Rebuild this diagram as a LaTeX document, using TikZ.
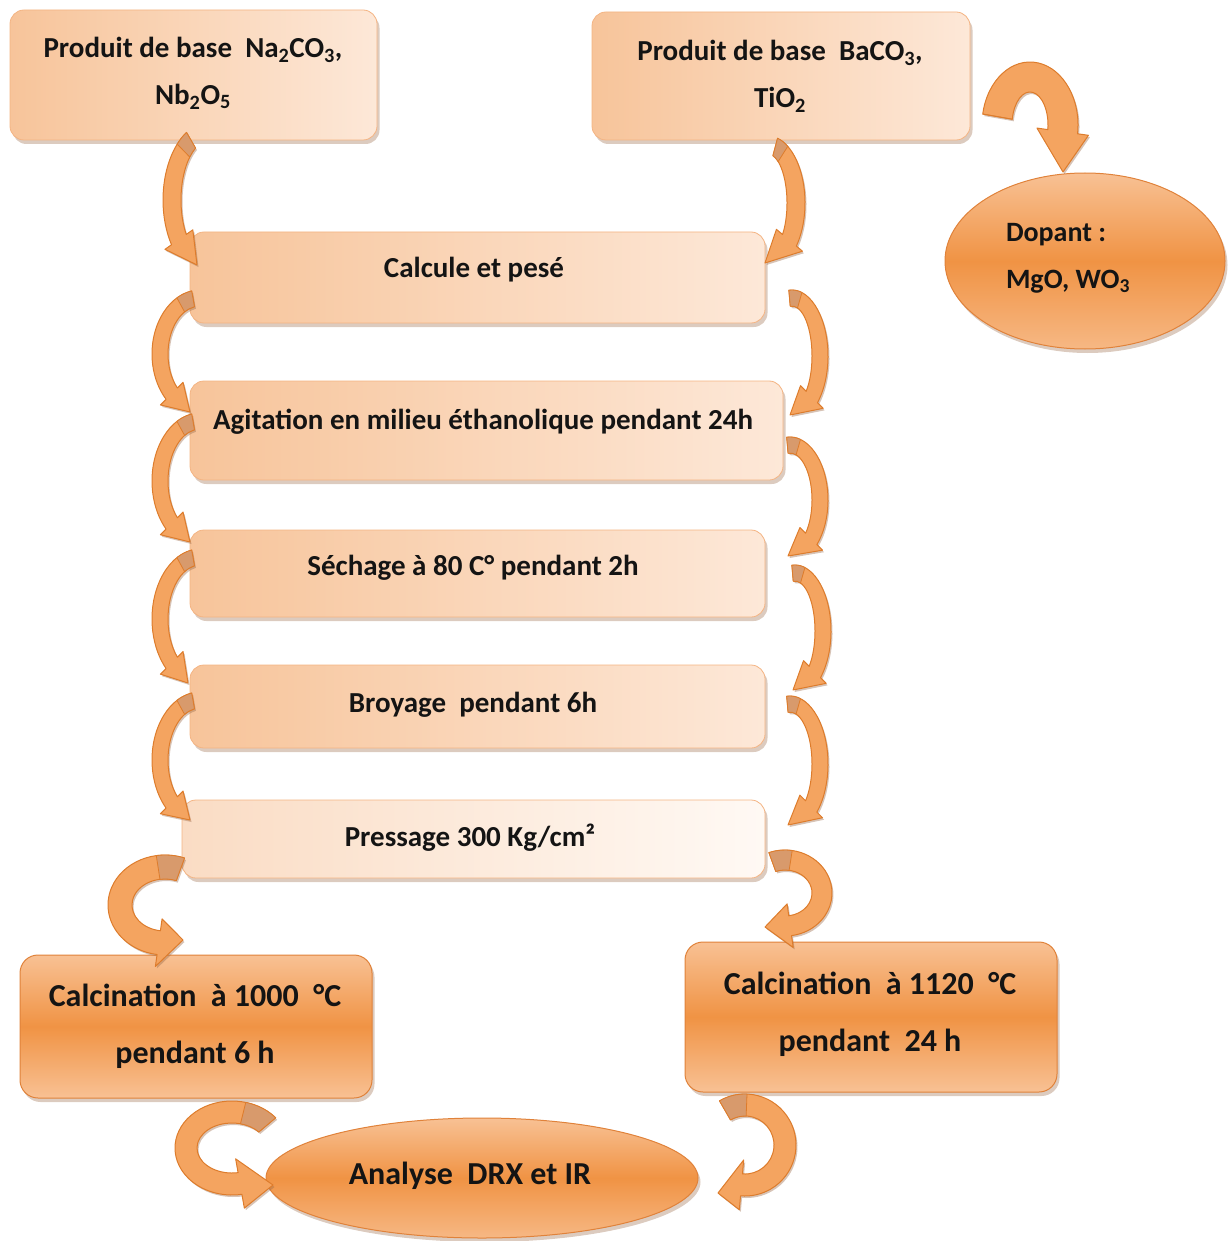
\documentclass[tikz,border=0pt]{standalone}
\usepackage{fontspec}
\setmainfont{Carlito}
\usetikzlibrary{shapes.geometric,shadows,calc}

\definecolor{peachA}{HTML}{F7C49A}
\definecolor{peachB}{HTML}{FDE8D8}
\definecolor{peachEdge}{HTML}{F4B483}
\definecolor{paleA}{HTML}{FADCC4}
\definecolor{paleB}{HTML}{FFF9F4}
\definecolor{orTop}{HTML}{F8C194}
\definecolor{orMid}{HTML}{F09344}
\definecolor{orEdge}{HTML}{E0823A}
\definecolor{arrFill}{HTML}{F4A460}
\definecolor{arrEdge}{HTML}{DD7C2C}
\definecolor{arrBack}{HTML}{D89A6C}
\definecolor{shadowc}{HTML}{9A6A48}

\newcommand\stepfont{\fontsize{29pt}{47pt}\selectfont\bfseries}
\newcommand\dopfont{\fontsize{28pt}{47pt}\selectfont\bfseries}
\newcommand\bigfont{\fontsize{32pt}{57pt}\selectfont\bfseries}
\newcommand\anafont{\fontsize{32pt}{36pt}\selectfont\bfseries}

\tikzset{
  softshadow/.style={drop shadow={shadow xshift=2.5pt, shadow yshift=-4pt, opacity=0.35, fill=shadowc}},
  stepbox/.style={rectangle, rounded corners=14pt, draw=peachEdge, line width=0.8pt,
    left color=peachA, right color=peachB, softshadow},
  palebox/.style={stepbox, left color=paleA, right color=paleB},
  hotbox/.style={rectangle, rounded corners=18pt, draw=orEdge, line width=1pt,
    top color=orTop, bottom color=orTop, middle color=orMid, softshadow},
  hotoval/.style={ellipse, draw=orEdge, line width=1pt,
    top color=orTop, bottom color=orTop!80!orMid, middle color=orMid, softshadow},
  txt/.style={align=center, inner sep=0pt, text=black!92, font=\stepfont},
  ribbonstyle/.style={fill=arrFill, draw=arrEdge, line width=1pt, line join=round,
    drop shadow={shadow xshift=1.5pt, shadow yshift=-2pt, opacity=0.4, fill=shadowc}},
  backface/.style={fill=arrBack, draw=arrEdge, line width=0.8pt, line join=round},
}

% share of each arrow's arc shown as the darker back face of the band
\newcommand\backfrac{0.15}

% curved block arrow: centre, x radius, y radius, start angle, head angle,
% tip offset from the centre, half band width, half head width
\newcommand\blockarc[8]{%
  \pgfmathsetmacro\rxo{#2+#7}\pgfmathsetmacro\ryo{#3+#7}%
  \pgfmathsetmacro\rxi{#2-#7}\pgfmathsetmacro\ryi{#3-#7}%
  \pgfmathsetmacro\rxh{#2+#8}\pgfmathsetmacro\ryh{#3+#8}%
  \pgfmathsetmacro\rxk{#2-#8}\pgfmathsetmacro\ryk{#3-#8}%
  \pgfmathsetmacro\abk{#4+\backfrac*(#5-#4)}%
  \path[ribbonstyle] ($(#1)+(#4:\rxo pt and \ryo pt)$)
    arc[start angle=#4, end angle=#5, x radius=\rxo pt, y radius=\ryo pt]
    -- ($(#1)+(#5:\rxh pt and \ryh pt)$) -- ($(#1)+(#6)$)
    -- ($(#1)+(#5:\rxk pt and \ryk pt)$) -- ($(#1)+(#5:\rxi pt and \ryi pt)$)
    arc[start angle=#5, end angle=#4, x radius=\rxi pt, y radius=\ryi pt] -- cycle;
  \path[backface] ($(#1)+(#4:\rxo pt and \ryo pt)$)
    arc[start angle=#4, end angle=\abk, x radius=\rxo pt, y radius=\ryo pt]
    -- ($(#1)+(\abk:\rxi pt and \ryi pt)$)
    arc[start angle=\abk, end angle=#4, x radius=\rxi pt, y radius=\ryi pt] -- cycle;
}

\begin{document}
\begin{tikzpicture}[x=1pt, y=-1pt]
\useasboundingbox (0,0) rectangle (1230,1241);

% process boxes
\node[stepbox, minimum width=367pt, minimum height=130pt] (prodA) at (193.5,75) {};
\node[stepbox, minimum width=378pt, minimum height=128pt] (prodB) at (781,76) {};
\node[hotoval, minimum width=280pt, minimum height=176pt] (dop) at (1085,261) {};
\node[stepbox, minimum width=575pt, minimum height=91pt] (calc) at (477.5,277.5) {};
\node[stepbox, minimum width=593pt, minimum height=99pt] (agit) at (486.5,430.5) {};
\node[stepbox, minimum width=575pt, minimum height=87pt] (sech) at (477.5,573.5) {};
\node[stepbox, minimum width=575pt, minimum height=83pt] (broy) at (477.5,706.5) {};
\node[palebox, minimum width=583pt, minimum height=78pt] (press) at (473.5,839) {};
\node[hotbox, minimum width=352pt, minimum height=143pt] (calcL) at (196,1026.5) {};
\node[hotbox, minimum width=372pt, minimum height=150pt] (calcR) at (871,1017) {};
\node[hotoval, minimum width=432pt, minimum height=120pt] (ana) at (482,1178) {};

% texts
\node[txt] (prodA-t) at (193,73) {Produit de base~ Na\textsubscript{2}CO\textsubscript{3},\\Nb\textsubscript{2}O\textsubscript{5}};
\node[txt] (prodB-t) at (780,76) {Produit de base~ BaCO\textsubscript{3},\\TiO\textsubscript{2}};
\node[txt, font=\dopfont, align=left] (dop-t) at (1068,258) {Dopant~:\\MgO, WO\textsubscript{3}};
\node[txt] (calc-t) at (474,270) {Calcule et pesé};
\node[txt] (agit-t) at (483,422) {Agitation en milieu éthanolique pendant 24h};
\node[txt] (sech-t) at (473,568) {Séchage à 80 C° pendant 2h};
\node[txt] (broy-t) at (473,705) {Broyage~ pendant 6h};
\node[txt] (press-t) at (470,838) {Pressage 300 Kg/cm²};
\node[txt, font=\bigfont] (calcL-t) at (195,1026) {Calcination~ à 1000~ °C\\pendant 6 h};
\node[txt, font=\bigfont] (calcR-t) at (870,1014) {Calcination~ à 1120~ °C\\pendant~ 24 h};
\node[txt, font=\anafont] (ana-t) at (470,1176) {Analyse~ DRX et IR};

% arc centres of the curved arrows
\coordinate (prodA-calc) at (210,200);
\coordinate (prodB-calc) at (768,203);
\coordinate (prodB-dop) at (1030,125);
\coordinate (calc-agit-l) at (200,354);
\coordinate (agit-sech-l) at (200,481);
\coordinate (sech-broy-l) at (200,619);
\coordinate (broy-press-l) at (200,760);
\coordinate (calc-agit-r) at (792,356);
\coordinate (agit-sech-r) at (790,500);
\coordinate (sech-broy-r) at (795,631);
\coordinate (broy-press-r) at (790,764);
\coordinate (press-calcL) at (165,905);
\coordinate (press-calcR) at (785,893);
\coordinate (calcL-ana) at (232,1148);
\coordinate (calcR-ana) at (745,1145);

% curved block arrows
\blockarc{prodA-calc}{38}{69}{120}{215}{-13,65}{9}{17}
\blockarc{prodB-calc}{28}{58}{75}{-40}{-3,60}{9}{17}
\blockarc{calc-agit-l}{40}{56}{100}{225}{-10,58}{8}{16}
\blockarc{agit-sech-l}{40}{60}{100}{225}{-10,61}{8}{16}
\blockarc{sech-broy-l}{40}{62}{100}{225}{-12,64}{8}{16}
\blockarc{broy-press-l}{40}{60}{100}{225}{-10,60}{8}{16}
\blockarc{calc-agit-r}{28}{58}{95}{-45}{-2,59}{8}{16}
\blockarc{agit-sech-r}{30}{55}{95}{-45}{-2,56}{8}{16}
\blockarc{sech-broy-r}{28}{58}{95}{-45}{-2,59}{8}{16}
\blockarc{broy-press-r}{30}{60}{95}{-45}{-2,61}{8}{16}
\blockarc{press-calcL}{45}{38}{70}{262}{18,35}{12}{24}
\blockarc{press-calcR}{37}{33}{110}{-82}{-20,34}{10}{22}
\blockarc{calcL-ana}{46}{36}{40}{280}{41,37}{11}{25}
\blockarc{calcR-ana}{40}{40}{120}{-95}{-27,48}{11}{25}
% the dopant arrow has no visible back face
\renewcommand\backfrac{0}
\blockarc{prodB-dop}{33}{48}{170}{-8}{33,47}{15}{26}
\end{tikzpicture}
\end{document}
